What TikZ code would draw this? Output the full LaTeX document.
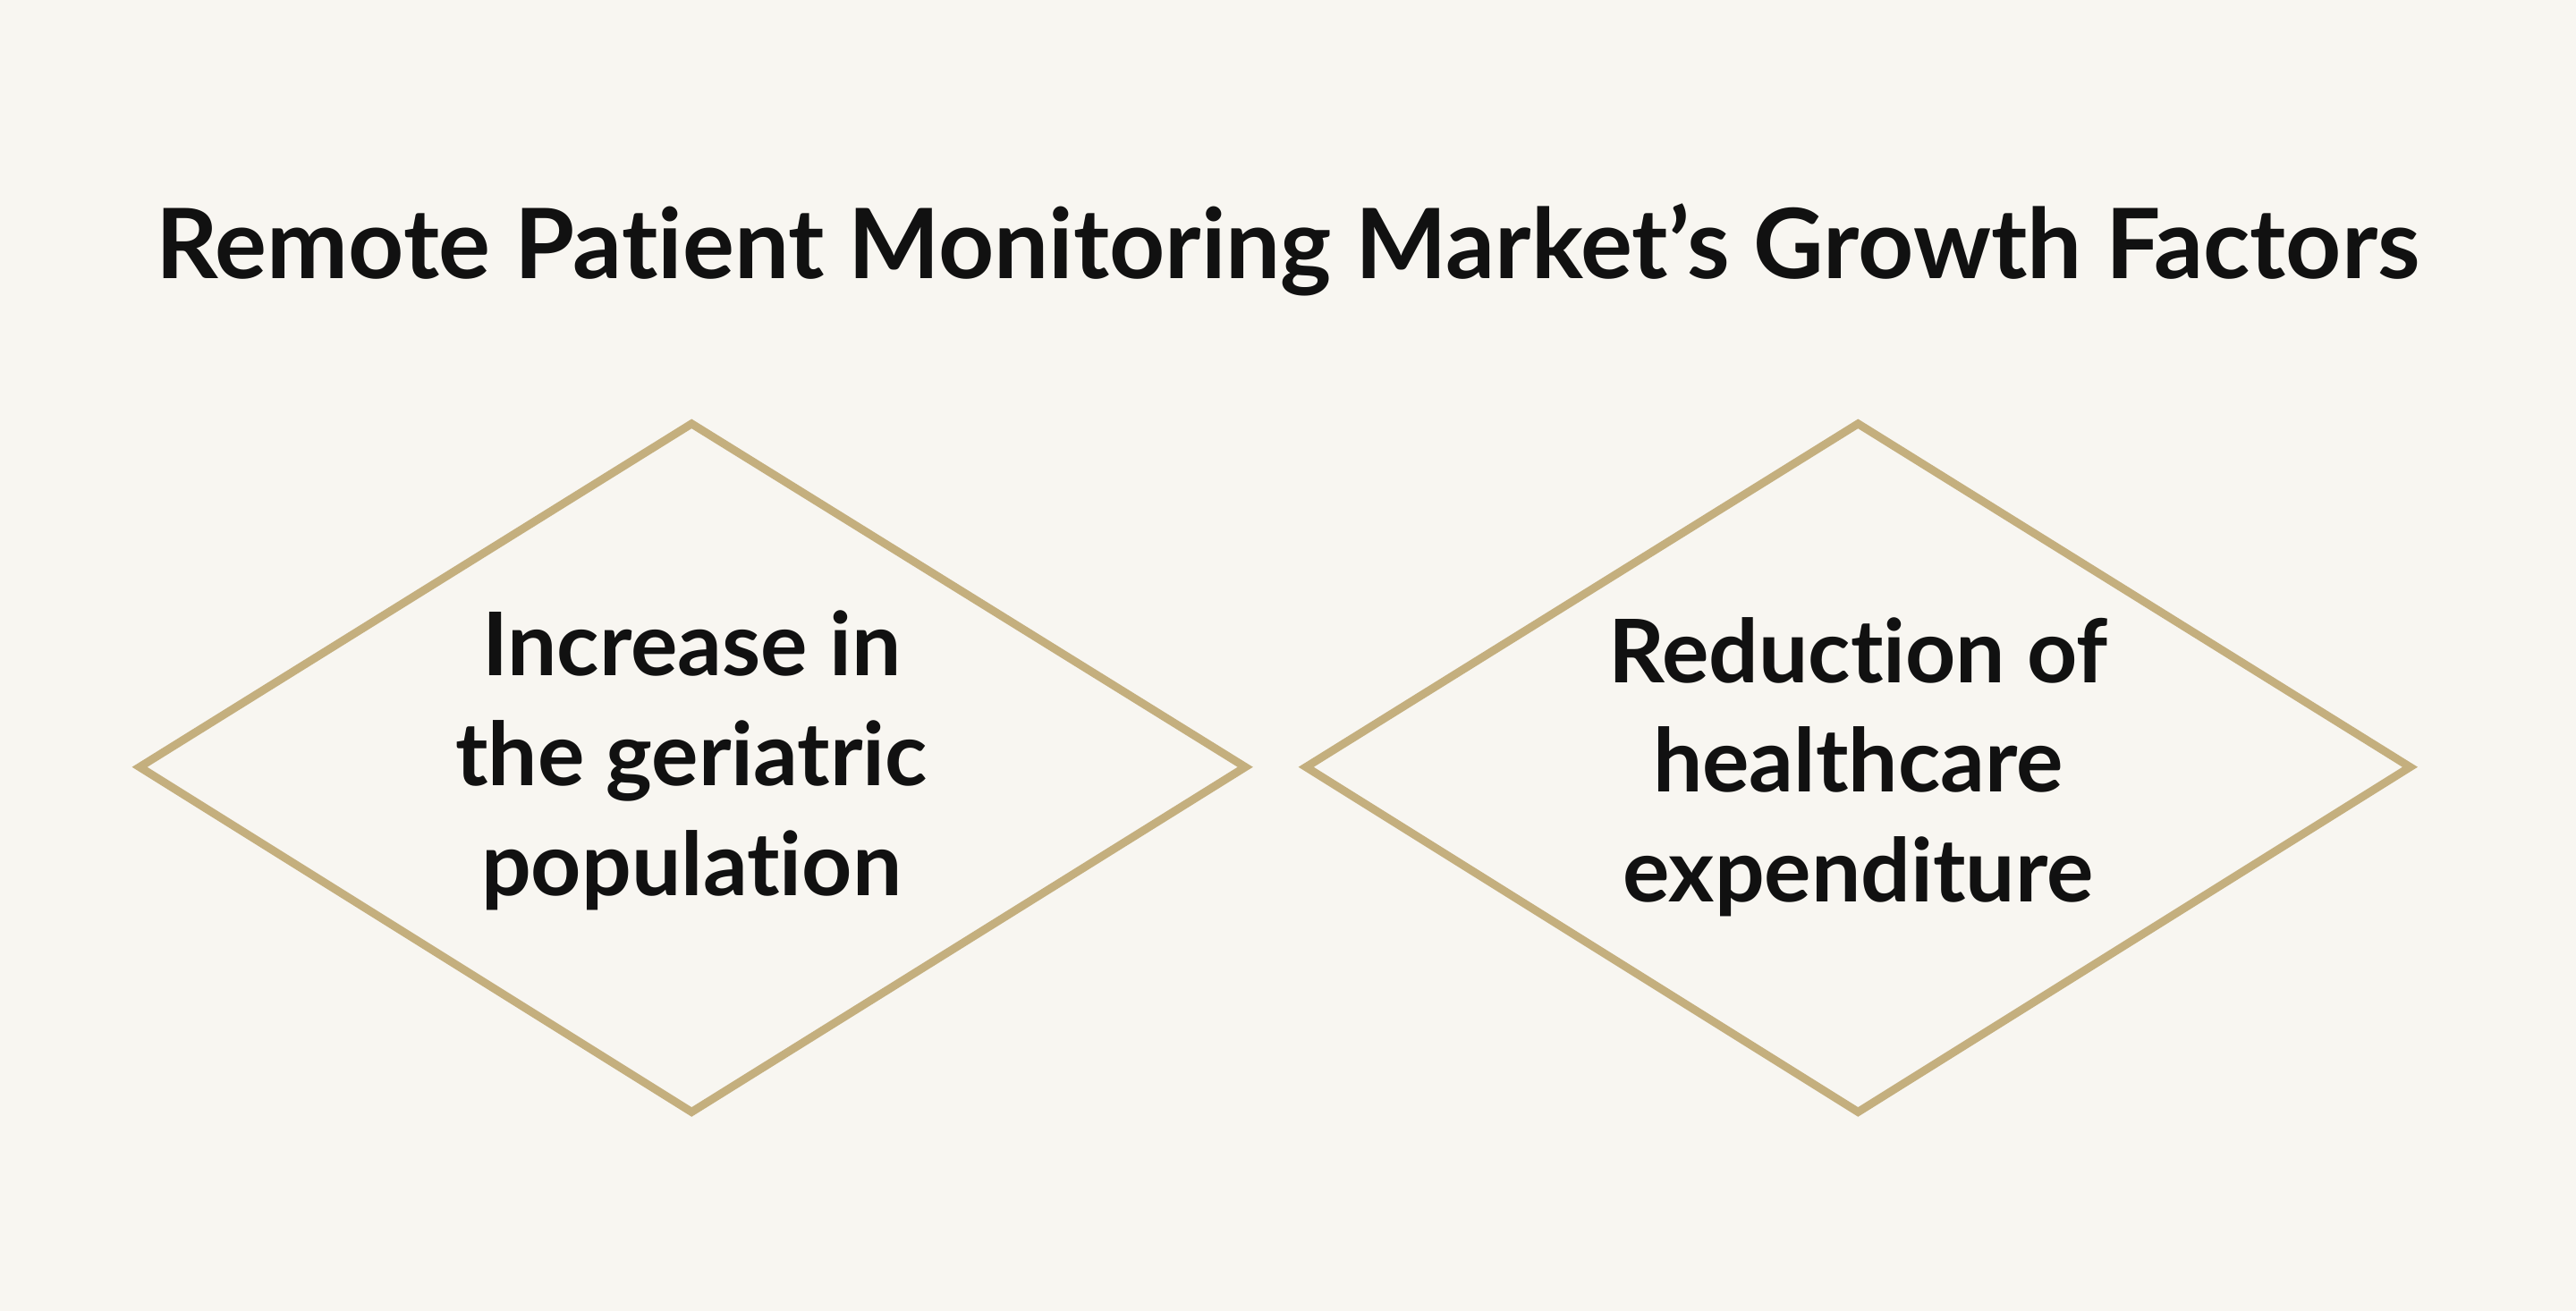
\documentclass[tikz,border=0pt]{standalone}
\usepackage{fontspec}
\setmainfont{Lato}[Ligatures=NoCommon]
\definecolor{bg}{HTML}{F8F6F1}
\definecolor{gold}{HTML}{C4AF7E}
\definecolor{ink}{HTML}{111111}
\begin{document}
\begin{tikzpicture}[x=0.01cm,y=-0.01cm,
  lbl/.style={font=\bfseries\fontsize{15.2pt}{19pt}\selectfont,text=ink,align=center},
  dia/.style={draw=gold,line width=1.4pt,line join=miter}]
\fill[bg] (0,0) rectangle (1568,798);
\useasboundingbox (0,0) rectangle (1568,798);
\node[font=\bfseries\fontsize{16.8pt}{21pt}\selectfont,text=ink] (title) at (784,152) {Remote Patient Monitoring Market’s Growth Factors};
\draw[dia] (85,467) -- (421,258) -- (758,467) -- (421,677) -- cycle;
\draw[dia] (795,467) -- (1131,258) -- (1467,467) -- (1131,677) -- cycle;
\node[lbl] (a) at (421,463) {Increase in\\the geriatric\\population};
\node[lbl] (b) at (1131,467) {Reduction of\\healthcare\\expenditure};
\end{tikzpicture}
\end{document}
